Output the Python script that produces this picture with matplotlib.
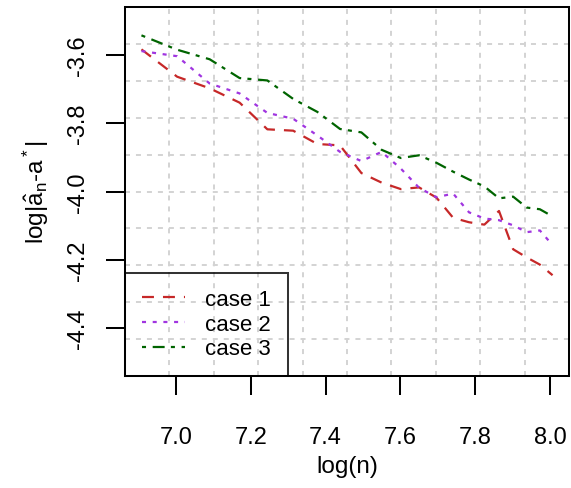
import matplotlib
matplotlib.use("Agg")
import matplotlib.pyplot as plt
import numpy as np

# sample sizes and the three error curves (log scale)
n = [1000, 1100, 1200, 1300, 1400, 1500, 1600, 1700, 1800, 1900, 2000,
     2100, 2200, 2300, 2400, 2500, 2600, 2700, 2800, 2900, 3000]
case1 = [-3.584, -3.664, -3.698, -3.740, -3.818, -3.822, -3.861, -3.865,
         -3.946, -3.974, -3.993, -3.988, -4.018, -4.077, -4.090, -4.097,
         -4.057, -4.169, -4.193, -4.214, -4.245]
case2 = [-3.589, -3.604, -3.684, -3.713, -3.770, -3.787, -3.836, -3.884,
         -3.911, -3.884, -3.933, -3.989, -4.017, -4.006, -4.061, -4.079,
         -4.084, -4.099, -4.119, -4.114, -4.157]
case3 = [-3.543, -3.585, -3.613, -3.668, -3.675, -3.729, -3.767, -3.817,
         -3.827, -3.878, -3.902, -3.894, -3.916, -3.942, -3.965, -3.985,
         -4.020, -4.015, -4.047, -4.052, -4.073]
labels = ["case 1", "case 2", "case 3"]
xticks = [7.0, 7.2, 7.4, 7.6, 7.8, 8.0]
yticks = [-4.4, -4.2, -4.0, -3.8, -3.6]

plt.rcParams['font.family'] = ['Liberation Sans', 'DejaVu Sans']
plt.rcParams['font.size'] = 16
plt.rcParams['axes.unicode_minus'] = False
plt.rcParams['mathtext.fontset'] = 'custom'
plt.rcParams['mathtext.rm'] = 'Liberation Sans'
plt.rcParams['mathtext.it'] = 'Liberation Sans:italic'
plt.rcParams['lines.scale_dashes'] = False

x = np.log(n)
xmin, xmax = x.min(), x.max()
pad = 0.04 * (xmax - xmin)
xlim = (xmin - pad, xmax + pad)
ylim = (-4.5 - 0.04, -3.5 + 0.04)

fig = plt.figure(figsize=(5.71, 4.89), dpi=100)
ax = fig.add_axes([125 / 571, 1 - 377 / 489, 444 / 571, 369 / 489])
ax.set_xlim(xlim)
ax.set_ylim(ylim)

# R style grid(10, 10): equal cells, not tied to ticks
for gx in np.linspace(xlim[0], xlim[1], 11)[1:-1]:
    ax.axvline(gx, color='#D3D3D3', lw=1.4, ls=(0, (3.6, 4.3)), zorder=1)
for gy in np.linspace(ylim[0], ylim[1], 11)[1:-1]:
    ax.axhline(gy, color='#D3D3D3', lw=1.4, ls=(0, (3.6, 4.3)), zorder=1)

ax.plot(x, case1, color='#C62828', lw=1.6, ls=(0, (8.6, 6.5)), label=labels[0], zorder=3)
ax.plot(x, case2, color='#A035E0', lw=1.6, ls=(0, (2.9, 4.8)), label=labels[1], zorder=3)
ax.plot(x, case3, color='#006400', lw=1.6, ls=(0, (2.9, 4.8, 8.6, 4.5)), label=labels[2], zorder=3)

ax.set_xticks(xticks)
ax.set_xticklabels([f"{t:.1f}" for t in xticks], fontsize=17)
ax.set_yticks(yticks)
ax.set_yticklabels([f"{t:.1f}" for t in yticks], rotation=90, va='center', fontsize=17)
ax.tick_params(axis='both', direction='out', length=13.7, width=1.45, color='black')
ax.tick_params(axis='x', pad=22)
ax.tick_params(axis='y', pad=12)
for s in ax.spines.values():
    s.set_linewidth(1.45)

ax.set_xlabel("log(n)", fontsize=17.5)
ax.xaxis.set_label_coords(0.5, -0.215)
ax.set_ylabel(r'$\mathrm{log|\hat{a}_n}$-$\mathrm{a^*|}$', fontsize=17.5)
ax.yaxis.set_label_coords(-0.167, 0.5)

leg = ax.legend(loc='lower left', borderaxespad=0, frameon=True, fancybox=False,
                edgecolor='black', facecolor='none', framealpha=None,
                handlelength=1.95, handletextpad=0.9, borderpad=0.75, labelspacing=0.16)
leg.get_frame().set_linewidth(1.45)

fig.savefig("out.png", dpi=100)
